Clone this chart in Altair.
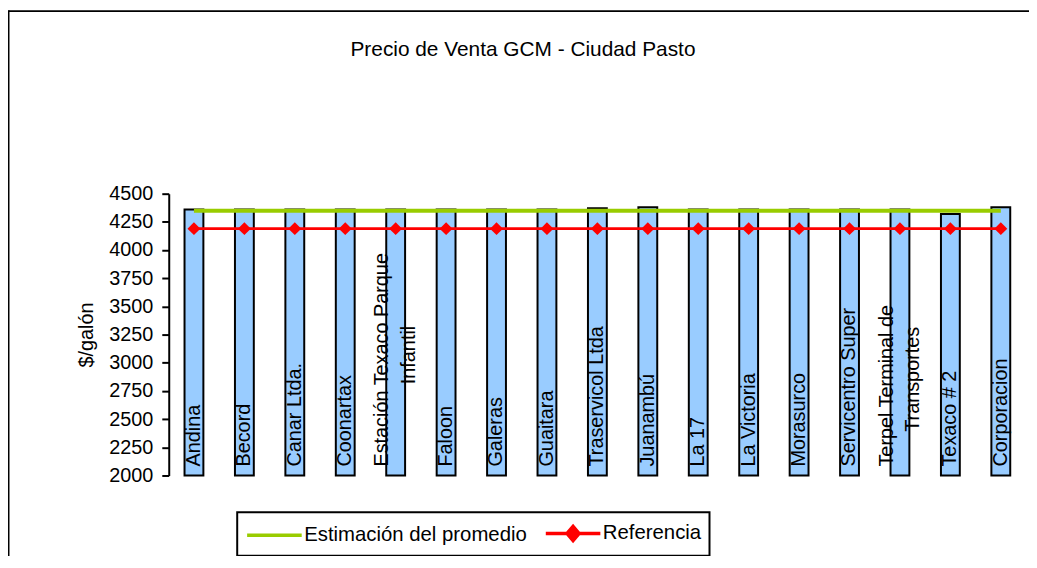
import altair as alt
import pandas as pd

FONT = "Liberation Sans"

# ---- data ----
categories = [
    "Andina", "Becord", "Canar Ltda.", "Coonartax",
    "Estación Texaco Parque Infantil", "Faloon", "Galeras", "Guaitara",
    "Traservicol Ltda", "Juanambú", "La 17", "La Victoria", "Morasurco",
    "Servicentro Super", "Terpel Terminal de Transportes", "Texaco # 2",
    "Corporacion",
]
label_line1 = [
    "Andina", "Becord", "Canar Ltda.", "Coonartax",
    "Estación Texaco Parque", "Faloon", "Galeras", "Guaitara",
    "Traservicol Ltda", "Juanambú", "La 17", "La Victoria", "Morasurco",
    "Servicentro Super", "Terpel Terminal de", "Texaco # 2",
    "Corporacion",
]
label_line2 = [
    "", "", "", "", "Infantil", "", "", "", "", "", "", "", "", "",
    "Transportes", "", "",
]
prices = [4360, 4360, 4360, 4360, 4360, 4360, 4360, 4360, 4370, 4380,
          4360, 4360, 4360, 4360, 4360, 4320, 4380]
promedio_value = 4348
referencia_value = 4190
y_ticks = [2000, 2250, 2500, 2750, 3000, 3250, 3500, 3750, 4000, 4250, 4500]
y_domain = [2000, 4500]
y_base = 2000
series = ["Estimación del promedio", "Referencia"]
series_colors = ["#99CC00", "#FF0000"]
series_symbols = ["M-2.5,0L2.5,0",
                  "M-2.5,0L2.5,0M-0.55,0L0,-0.65L0.55,0L0,0.65Z"]
title_text = "Precio de Venta GCM -  Ciudad Pasto"
y_title = "$/galón"

df = pd.DataFrame({
    "cat": categories,
    "line1": label_line1,
    "line2": label_line2,
    "price": prices,
    "avg": [promedio_value] * len(categories),
    "ref": [referencia_value] * len(categories),
})
series_df = pd.DataFrame({"series": series})
frame_df = pd.DataFrame({"f": [0]})

base = alt.Chart(df)
x_enc = alt.X("cat:N", sort=categories,
              scale=alt.Scale(paddingInner=0, paddingOuter=0), axis=None)
y_scale = alt.Scale(domain=y_domain, nice=False, zero=False)
y_axis = alt.Axis(values=y_ticks, tickCount=len(y_ticks) + 5, format="d",
                  grid=False, labelOverlap=False,
                  labelFont=FONT, labelFontSize=20, labelColor="black",
                  labelPadding=9, tickSize=7, tickWidth=2, tickColor="black",
                  domainColor="black", domainWidth=2,
                  titleFont=FONT, titleFontSize=20, titleFontWeight="normal",
                  titleColor="black", titlePadding=12)


def y_enc(field):
    return alt.Y(field, scale=y_scale, title=y_title, axis=y_axis)


y_base_enc = alt.YDatum(y_base, type="quantitative", scale=y_scale,
                        title=y_title, axis=y_axis)

bars = base.mark_bar(size=19, fill="#99CCFF", stroke="#000000", strokeWidth=2).encode(
    x=x_enc, y=y_enc("price:Q"), y2=alt.Y2Datum(y_base))

text_props = dict(angle=270, align="left", baseline="middle", fontSize=20,
                  font=FONT, color="black")

lab_single = base.transform_filter(alt.datum.line2 == "").mark_text(
    dx=9, **text_props).encode(x=x_enc, y=y_base_enc, text="line1:N")
lab_double = base.transform_filter(alt.datum.line2 != "").mark_text(
    dx=9, dy=-13.5, **text_props).encode(x=x_enc, y=y_base_enc, text="line1:N")
lab_est2 = base.transform_filter(alt.datum.cat == categories[4]).mark_text(
    dx=92, dy=13.5, **text_props).encode(x=x_enc, y=y_base_enc, text="line2:N")
lab_ter2 = base.transform_filter(alt.datum.cat == categories[14]).mark_text(
    dx=44, dy=13.5, **text_props).encode(x=x_enc, y=y_base_enc, text="line2:N")

green = base.mark_line(color="#99CC00", strokeWidth=4).encode(
    x=x_enc, y=y_enc("avg:Q"))
red = base.mark_line(color="#FF0000", strokeWidth=3).encode(
    x=x_enc, y=y_enc("ref:Q"))
diamonds = base.mark_point(shape="diamond", filled=True, color="#FF0000",
                           size=170, opacity=1).encode(
    x=x_enc, y=y_enc("ref:Q"))

leg = alt.Legend(title=None, orient="none", legendX=69, legendY=321,
                 direction="horizontal", symbolSize=484, symbolStrokeWidth=3.5,
                 symbolOffset=16.5, symbolOpacity=1, labelFont=FONT,
                 labelFontSize=20.5, labelColor="black", labelOffset=17,
                 labelLimit=500, columnPadding=12, padding=8, strokeColor="black")
legend_layer = alt.Chart(series_df).transform_filter("false").mark_point(
    filled=True, opacity=1).encode(
    fill=alt.Fill("series:N", scale=alt.Scale(domain=series, range=series_colors), legend=leg),
    stroke=alt.Stroke("series:N", scale=alt.Scale(domain=series, range=series_colors), legend=leg),
    shape=alt.Shape("series:N", scale=alt.Scale(domain=series, range=series_symbols), legend=leg),
)

frame_top = alt.Chart(frame_df).mark_rule(color="black", strokeWidth=2).encode(
    x=alt.value(-161.5), x2=alt.value(867), y=alt.value(-184))
frame_left = alt.Chart(frame_df).mark_rule(color="black", strokeWidth=2).encode(
    x=alt.value(-161.5), y=alt.value(-185), y2=alt.value(380))

chart = alt.layer(
    frame_top, frame_left, bars, lab_single, lab_double, lab_est2, lab_ter2,
    green, red, diamonds, legend_layer,
).properties(
    width=864, height=284,
    padding={"left": 162, "top": 185, "right": 3, "bottom": 79},
    autosize=alt.AutoSizeParams(type="none"),
    title=alt.TitleParams(title_text, font=FONT, fontSize=21, fontWeight="normal",
                          color="black", anchor="middle", frame="group",
                          baseline="alphabetic", offset=0, dx=-75, dy=68),
).configure_view(stroke=None).configure_legend(strokeWidth=2)

chart.save("out.html", embed_options={"renderer": "svg", "actions": False})
